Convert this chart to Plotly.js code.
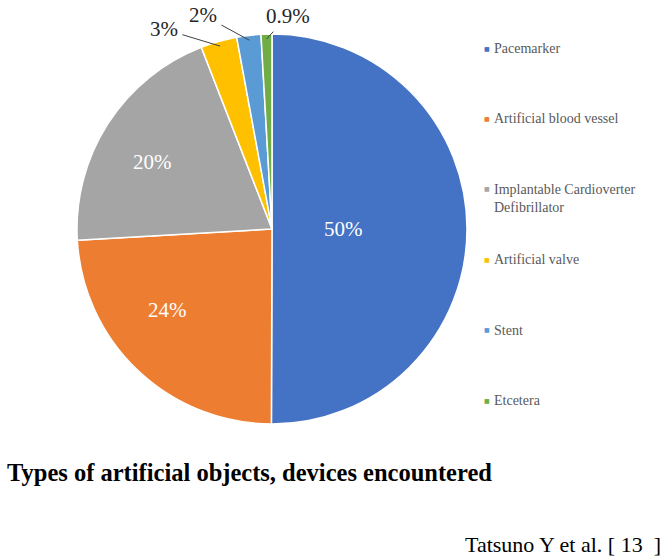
<!DOCTYPE html>
<html>
<head>
<meta charset="utf-8">
<script src="https://cdn.plot.ly/plotly-3.0.1.min.js"></script>
<style>
  body { margin: 0; background: #fff; }
  #chart { width: 665px; height: 560px; }
</style>
</head>
<body>
<div id="chart"></div>
<script>
// device types and their share (%)
const labels = ['Pacemarker', 'Artificial blood vessel', 'Implantable Cardioverter Defibrillator',
                'Artificial valve', 'Stent', 'Etcetera']
const values = [50, 24, 20, 3, 2, 0.9]
const colors = ['#4472C4', '#ED7D31', '#A5A5A5', '#FFC000', '#5B9BD5', '#70AD47']

const W = 665, H = 560
// pie box in pixels
const cx = 272, cy = 229, R = 195
// big slices: label offset from the pie centre (px)
const insideOffsets = {0: [71, 0], 1: [-105, 81], 2: [-120, -67]}
// small slices: label offset from the leader-line tip (px)
const outsideOffsets = {3: [-56, -17], 4: [-46, -25], 5: [21, -23]}

const serif = 'Liberation Serif, Times New Roman, serif'
const total = values.reduce((a, b) => a + b, 0)

let annotations = []

let cum = 0
for (let i = 0; i < values.length; i++) {
    let mid = (cum + values[i] / 2) / total * 2 * Math.PI
    cum += values[i]
    if (i in insideOffsets) {
        annotations.push({
            x: (cx + insideOffsets[i][0]) / W, y: 1 - (cy + insideOffsets[i][1]) / H,
            xref: 'paper', yref: 'paper', xanchor: 'center', yanchor: 'middle',
            text: values[i] + '%', showarrow: false,
            font: {family: serif, size: 21, color: '#fff'}
        })
        continue
    }
    // leader line from the rim at the slice middle
    let r = R * 0.975
    let px = cx + r * Math.sin(mid)
    let py = cy - r * Math.cos(mid)
    annotations.push({
        x: px / W, y: 1 - py / H, xref: 'paper', yref: 'paper',
        text: values[i] + '%',
        showarrow: true, arrowhead: 0, arrowwidth: 1, arrowcolor: '#404040',
        ax: outsideOffsets[i][0], ay: outsideOffsets[i][1],
        startstandoff: 3,
        font: {family: serif, size: 21, color: '#262626'}
    })
}

// legend down the right side
const legX = 487, legY0 = 48, legStep = 70.4
for (let i = 0; i < labels.length; i++) {
    let y = legY0 + i * legStep
    annotations.push({
        x: legX / W, y: 1 - y / H, xref: 'paper', yref: 'paper',
        text: '■', showarrow: false, xanchor: 'center', yanchor: 'middle',
        font: {family: 'DejaVu Sans', size: 6, color: colors[i]}
    })
    annotations.push({
        x: (legX + 5) / W, y: 1 - (y - 9) / H, xref: 'paper', yref: 'paper',
        text: labels[i].replace('Cardioverter ', 'Cardioverter<br>'),
        showarrow: false, xanchor: 'left', yanchor: 'top', align: 'left',
        font: {family: serif, size: 14, color: '#595959'}
    })
}

// source note
annotations.push({
    x: 663 / W, y: 1 - 544 / H, xref: 'paper', yref: 'paper',
    text: 'Tatsuno Y et al. [ 13  ]', showarrow: false,
    xanchor: 'right', yanchor: 'middle',
    font: {family: serif, size: 22, color: '#000'}
})

let trace = {
    type: 'pie',
    labels: labels,
    values: values,
    textinfo: 'none',
    sort: false,
    direction: 'clockwise',
    rotation: 0,
    marker: {colors: colors, line: {color: '#fff', width: 1.5}},
    domain: {x: [(cx - R) / W, (cx + R) / W], y: [1 - (cy + R) / H, 1 - (cy - R) / H]},
    hoverinfo: 'label+value'
}

Plotly.newPlot('chart', [trace], {
    width: W, height: H,
    margin: {l: 0, r: 0, t: 0, b: 0},
    showlegend: false,
    paper_bgcolor: '#fff',
    title: {
        text: 'Types of artificial objects, devices encountered',
        x: 7 / W, xanchor: 'left', xref: 'container',
        y: 1 - 472 / H, yanchor: 'middle', yref: 'container',
        font: {family: serif, size: 24.5, weight: 'bold', color: '#000'}
    },
    annotations: annotations
}, {displayModeBar: false})
</script>
</body>
</html>
